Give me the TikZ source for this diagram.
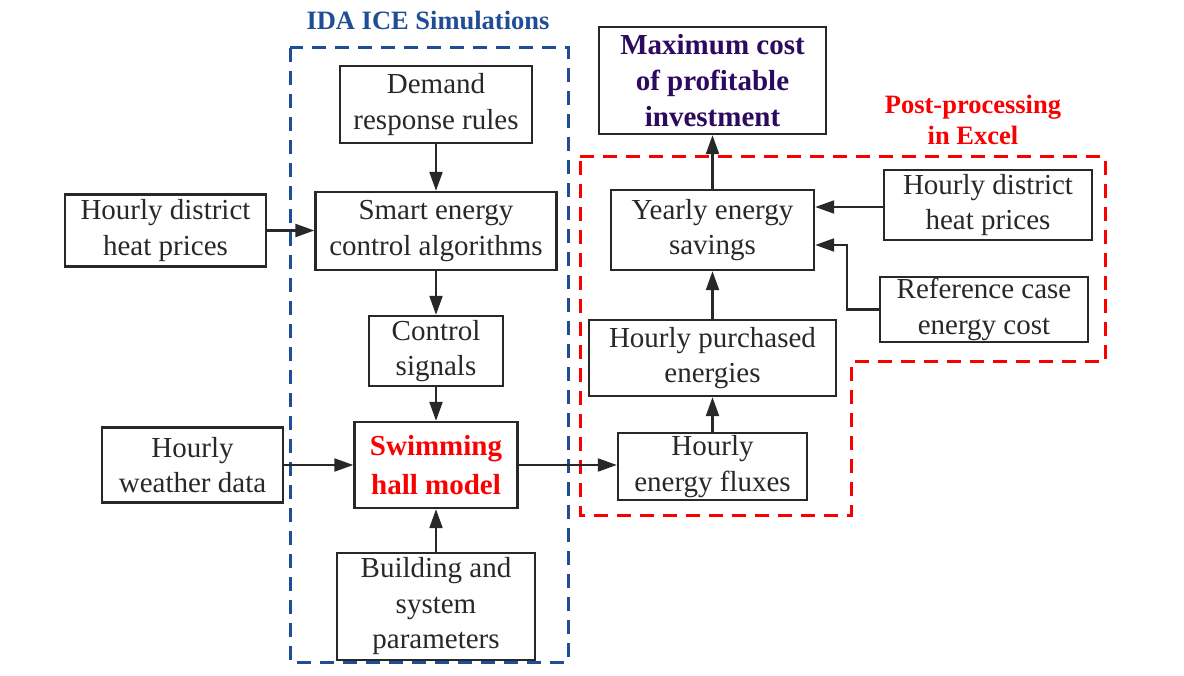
\documentclass[tikz,border=0pt]{standalone}
\usepackage{fontspec}
\setmainfont{Liberation Serif}
\usetikzlibrary{arrows.meta}
\definecolor{idablue}{RGB}{31,78,150}
\definecolor{ppred}{RGB}{250,0,0}
\definecolor{maxpurple}{RGB}{45,10,95}
\definecolor{ink}{RGB}{40,40,40}
\begin{document}
\begin{tikzpicture}[x=1pt,y=-1pt,
  box/.style={draw=ink, line width=2.4pt, text=ink, inner sep=0pt, align=center,
    font=\fontsize{29}{35.5}\selectfont},
  boldbox/.style={box, font=\fontsize{29}{36}\selectfont\bfseries},
  arr/.style={draw=ink, line width=2.2pt, -{Triangle[length=19pt,width=13pt]}},
  grp/.style={line width=3pt, dash pattern=on 14pt off 9pt},
  title/.style={font=\fontsize{26.5}{32}\selectfont\bfseries, align=center, inner sep=0pt}]
\useasboundingbox (0,0) rectangle (1184,676);
\fill[white] (0,0) rectangle (1184,676);

% group frames
\draw[grp, draw=idablue] (290,48) rectangle (568,662);
\draw[grp, draw=ppred] (580,157) -- (1105,157) -- (1105,362) -- (851,362) -- (851,515) -- (580,515) -- cycle;
\node[title, text=idablue] (tida) at (428,20) {IDA ICE Simulations};
\node[title, text=ppred] (tpp) at (973,120) {Post-processing\\[-1pt]in Excel};

% left column
\node[box, minimum width=192pt, minimum height=77pt] (dem) at (436,104.5) {Demand\\response rules};
\node[box, minimum width=241pt, minimum height=78pt] (smart) at (436,231) {Smart energy\\control algorithms};
\node[box, minimum width=134pt, minimum height=70pt] (ctrl) at (436,351) {Control\\signals};
\node[boldbox, text=ppred, minimum width=163pt, minimum height=86pt] (swim) at (436,465) {Swimming\\[3pt]hall model};
\node[box, minimum width=198pt, minimum height=107pt] (build) at (436,606.5) {Building and\\system\\parameters};
\node[box, minimum width=201pt, minimum height=72pt] (heatL) at (165.5,230.5) {Hourly district\\heat prices};
\node[box, minimum width=181pt, minimum height=75pt] (weather) at (192.5,465) {Hourly\\weather data};

% right column
\node[boldbox, text=maxpurple, minimum width=227pt, minimum height=107pt] (maxc) at (712.5,80.5) {Maximum cost\\of profitable\\investment};
\node[box, minimum width=203pt, minimum height=80pt] (yearly) at (712.5,230) {Yearly energy\\savings};
\node[box, minimum width=208pt, minimum height=70pt] (heatR) at (988,205) {Hourly district\\heat prices};
\node[box, minimum width=208pt, minimum height=65pt] (ref) at (984,309.5) {Reference case\\energy cost};
\node[box, minimum width=247pt, minimum height=76pt] (purch) at (712.5,358) {Hourly purchased\\energies};
\node[box, minimum width=189pt, minimum height=67pt] (flux) at (712.5,466.5) {Hourly\\energy fluxes};

\coordinate (refbend) at (847,309.5);

% connectors
\draw[arr] (dem) -- (smart);
\draw[arr] (smart) -- (ctrl);
\draw[arr] (ctrl) -- (swim);
\draw[arr] (build) -- (swim);
\draw[arr] (heatL.east) -- (heatL.east -| smart.west);
\draw[arr] (weather.east) -- (weather.east -| swim.west);
\draw[arr] (swim.east) -- (swim.east -| flux.west);
\draw[arr] (flux) -- (purch);
\draw[arr] (purch) -- (yearly);
\draw[arr] (yearly) -- (maxc);
\draw[arr] (heatR.west |- 0,207) -- (yearly.east |- 0,207);
\draw[arr] (ref.west) -- (refbend) |- (yearly.east |- 0,245);
\end{tikzpicture}
\end{document}
